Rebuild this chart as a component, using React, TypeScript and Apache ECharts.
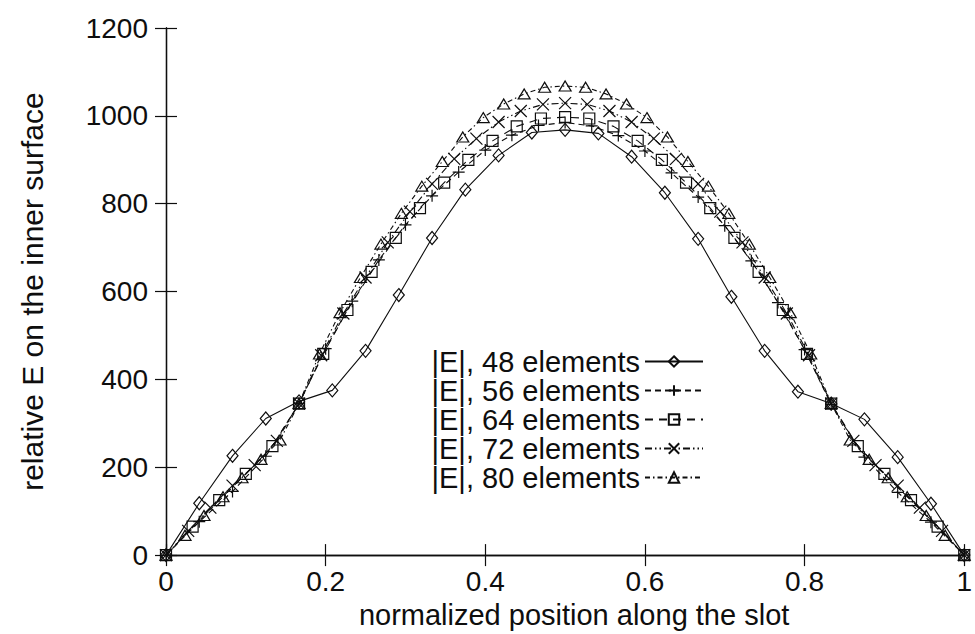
import React, { useEffect, useRef } from "react";
import * as echarts from "echarts";

// node layout of each mesh: [intervals on first wall, intervals on bottom, intervals on second wall]
const SEG48 = [4, 16, 4];
const SEG56 = [4, 20, 4];
const SEG64 = [5, 22, 5];
const SEG72 = [6, 24, 6];
const SEG80 = [7, 26, 7];

const E48 = [0, 118, 226, 311, 350, 375, 465, 592, 722, 832, 910, 962, 968, 960, 907, 825, 720, 588, 465, 372, 345, 309, 223, 117, 0];
const E56 = [0, 76, 145, 225, 345, 470, 578, 672, 752, 818, 872, 922, 956, 978, 985, 977, 955, 920, 870, 815, 750, 670, 575, 468, 343, 223, 143, 75, 0];
const E64 = [0, 65, 125, 185, 248, 345, 458, 558, 645, 722, 790, 848, 900, 943, 976, 994, 997, 994, 976, 943, 900, 848, 790, 722, 645, 558, 458, 345, 248, 185, 125, 65, 0];
const E72 = [0, 55, 108, 158, 205, 260, 345, 455, 550, 632, 712, 782, 845, 902, 948, 986, 1011, 1026, 1029, 1026, 1011, 986, 948, 902, 845, 782, 712, 632, 550, 455, 345, 260, 205, 158, 108, 55, 0];
const E80 = [0, 45, 90, 133, 176, 218, 262, 345, 458, 552, 632, 708, 778, 840, 896, 952, 996, 1027, 1050, 1065, 1068, 1065, 1050, 1027, 996, 952, 896, 840, 778, 708, 632, 552, 458, 345, 262, 218, 176, 133, 90, 45, 0];

const NAMES = ["|E|, 48 elements", "|E|, 56 elements", "|E|, 64 elements", "|E|, 72 elements", "|E|, 80 elements"];
const X_TICKS = [0, 0.2, 0.4, 0.6, 0.8, 1];
const Y_TICKS = [0, 200, 400, 600, 800, 1000, 1200];

// positions of the nodes along the normalized slot contour (walls 1/6, bottom 4/6)
function nodes(seg: number[]): number[] {
  const lens = [1 / 6, 4 / 6, 1 / 6];
  const xs: number[] = [0];
  let start = 0;
  for (let s = 0; s < 3; s++) {
    for (let i = 1; i <= seg[s]; i++) xs.push(start + (lens[s] * i) / seg[s]);
    start += lens[s];
  }
  return xs;
}

function pairs(seg: number[], vals: number[]) {
  const xs = nodes(seg);
  return vals.map((v, i) => [xs[i], v]);
}

const INK = "#0e0e0e";
const FONT = "'Liberation Sans', Arial, Helvetica, sans-serif";

export default function App() {
  const ref = useRef<HTMLDivElement>(null);
  useEffect(() => {
    if (!ref.current) return;
    const chart = echarts.init(ref.current, null, { renderer: "svg" });
    const marker = { color: "rgba(0,0,0,0)", borderColor: INK, borderWidth: 1.2 };
    const mk = (name: string, data: any[], symbol: string, size: any, dash: any, z: number) => ({
      name,
      type: "line",
      data,
      symbol,
      symbolSize: size,
      showAllSymbol: true,
      z,
      lineStyle: { color: INK, width: 1.1, type: dash },
      itemStyle: marker,
      emphasis: { disabled: true },
    });
    const axisLine = { show: true, lineStyle: { color: INK, width: 1.3 } };
    const tick = { show: true, inside: true, length: 11, lineStyle: { color: INK, width: 1.2 } };
    const fmtX = (v: number) => {
      const t = X_TICKS.find((q) => Math.abs(q - v) < 1e-9);
      return t === undefined ? "" : String(t);
    };
    const fmtY = (v: number) => {
      const t = Y_TICKS.find((q) => Math.abs(q - v) < 1e-9);
      return t === undefined ? "" : String(t);
    };
    chart.setOption({
      animation: false,
      backgroundColor: "#fff",
      textStyle: { fontFamily: FONT },
      grid: { left: 166, right: 9, top: 28, bottom: 74, show: false },
      xAxis: [
        {
          type: "value", min: 0, max: 1, interval: 0.2, position: "bottom",
          axisLine, axisTick: tick, splitLine: { show: false },
          axisLabel: { fontSize: 28, color: INK, margin: 12, fontFamily: FONT, formatter: fmtX },
          name: "normalized position along the slot", nameLocation: "middle", nameGap: 44,
          nameTextStyle: { fontSize: 29, color: INK, fontFamily: FONT, padding: [0, 0, 0, 18] },
        },
        {
          type: "value", min: 0, max: 1, interval: 0.2, position: "top",
          axisLine, axisTick: tick, splitLine: { show: false }, axisLabel: { show: false },
        },
      ],
      yAxis: [
        {
          type: "value", min: 0, max: 1200, interval: 200, position: "left",
          axisLine, axisTick: tick, splitLine: { show: false },
          axisLabel: { fontSize: 28, color: INK, margin: 18, fontFamily: FONT, formatter: fmtY },
          name: "relative E on the inner surface", nameLocation: "middle", nameGap: 119, nameRotate: 90,
          nameTextStyle: { fontSize: 30, color: INK, fontFamily: FONT },
        },
        {
          type: "value", min: 0, max: 1200, interval: 200, position: "right",
          axisLine, axisTick: tick, splitLine: { show: false }, axisLabel: { show: false },
        },
      ],
      legend: {
        data: NAMES,
        orient: "vertical",
        align: "right",
        right: 266,
        top: 342,
        itemWidth: 58,
        itemHeight: 13,
        itemGap: 0,
        backgroundColor: "#fff",
        textStyle: { fontSize: 29, lineHeight: 28.5, color: INK, fontFamily: FONT },
      },
      series: [
        mk(NAMES[0], pairs(SEG48, E48), "diamond", [11, 13], "solid", 6),
        mk(NAMES[1], pairs(SEG56, E56), "path://M5,0L5,10M0,5L10,5", 12, [6, 4], 5),
        mk(NAMES[2], pairs(SEG64, E64), "rect", 11, [8, 6], 4),
        mk(NAMES[3], pairs(SEG72, E72), "path://M0,0L10,10M10,0L0,10", 12, [7, 3, 1.5, 3, 1.5, 3], 3),
        mk(NAMES[4], pairs(SEG80, E80), "triangle", [12, 10], [5, 3, 1.5, 3], 2),
      ],
    });
    return () => chart.dispose();
  }, []);
  return (
    <div
      ref={ref}
      style={{ position: "fixed", left: 0, top: 0, width: 975, height: 634, background: "#fff" }}
    />
  );
}
